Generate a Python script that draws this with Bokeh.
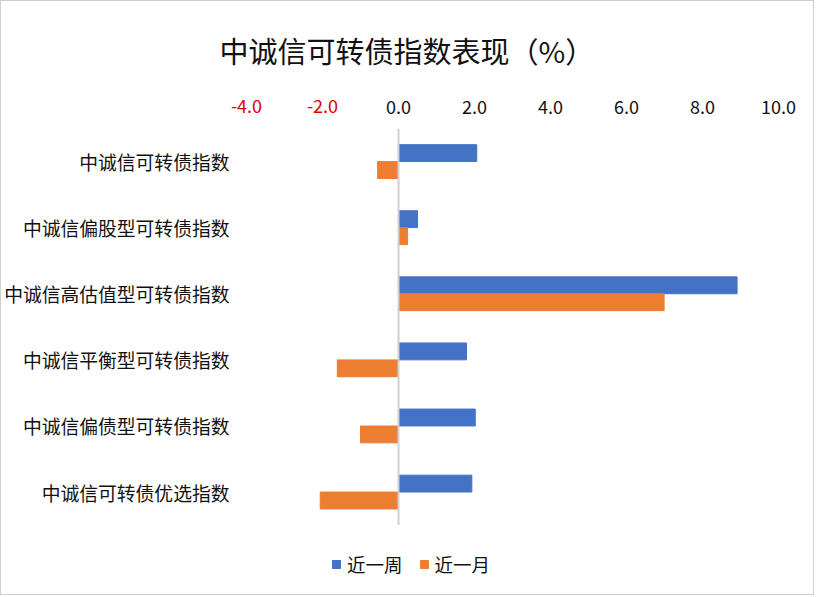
from bokeh.plotting import figure
from bokeh.models import (Range1d, Legend, LegendItem, LinearAxis,
                          ColumnDataSource, FixedTicker, PrintfTickFormatter)
from bokeh.transform import dodge
from bokeh.embed import file_html
from bokeh.resources import INLINE

categories = ["中诚信可转债指数", "中诚信偏股型可转债指数", "中诚信高估值型可转债指数",
              "中诚信平衡型可转债指数", "中诚信偏债型可转债指数", "中诚信可转债优选指数"]
week = [2.06, 0.50, 8.91, 1.79, 2.02, 1.93]
month = [-0.55, 0.24, 6.99, -1.61, -1.00, -2.06]
series_names = ["近一周", "近一月"]
tick_values = [-4, -2, 0, 2, 4, 6, 8, 10]
title_text = "中诚信可转债指数表现（%）"

FONT = "Noto Sans CJK SC"
BLUE = "#4472C4"
ORANGE = "#ED7D31"

n = len(categories)
pos = [n - 1 - i for i in range(n)]          # first category at the top
src = ColumnDataSource(dict(pos=pos, cat=categories, week=week, month=month))

W, H = 814, 595
TOP, BOTTOM, LEFT, RIGHT = 123, 0, 245, 37
CAT_PX = 400                                  # height used by the categories
frame_h = H - TOP - BOTTOM
extra = (frame_h - CAT_PX) / (CAT_PX / n)     # room left under the bars for the legend

p = figure(width=W, height=H,
           y_range=Range1d(-0.5 - extra, n - 0.5),
           x_range=Range1d(tick_values[0], tick_values[-1]), x_axis_location="above",
           output_backend="svg", toolbar_location=None, title=title_text)
p.styles = {"border": "1px solid #cfcfcf"}

p.min_border_left = LEFT
p.min_border_right = RIGHT
p.min_border_top = TOP
p.min_border_bottom = BOTTOM
p.outline_line_color = None
p.background_fill_color = "white"
p.border_fill_color = "white"
p.xgrid.grid_line_color = None
p.ygrid.grid_line_color = None

p.title.text_font = FONT
p.title.text_font_size = "29px"
p.title.text_font_style = "normal"
p.title.text_color = "#111111"
p.title.align = "left"
p.title.offset = -27
p.title.standoff = 50

r1 = p.hbar(y=dodge("pos", 0.128), left=0, right="week",
            height=0.255, color=BLUE, source=src)
r2 = p.hbar(y=dodge("pos", -0.128), left=0, right="month",
            height=0.255, color=ORANGE, source=src)

# vertical axis line at zero, over the category band only
p.segment(x0=[0], x1=[0], y0=[-0.5], y1=[n - 0.5], line_color="#d0d0d0", line_width=2)

pos_ticks = [t for t in tick_values if t >= 0]
neg_ticks = [t for t in tick_values if t < 0]


def style_axis(ax, color, standoff):
    ax.formatter = PrintfTickFormatter(format="%.1f")
    ax.axis_line_color = None
    ax.major_tick_line_color = None
    ax.minor_tick_line_color = None
    ax.major_tick_in = 0
    ax.major_tick_out = 0
    ax.minor_tick_in = 0
    ax.minor_tick_out = 0
    ax.major_label_text_font = FONT
    ax.major_label_text_font_size = "18px"
    ax.major_label_text_color = color
    ax.major_label_standoff = standoff


# inner axis (next to the frame): negative ticks in red
xa = p.xaxis[0]
xa.ticker = FixedTicker(ticks=neg_ticks)
style_axis(xa, "#E00000", 16)

# outer axis: non-negative ticks in black, pulled back onto the same row
xb = LinearAxis(ticker=FixedTicker(ticks=pos_ticks))
style_axis(xb, "#111111", -18)
p.add_layout(xb, "above")

ya = p.yaxis[0]
ya.ticker = FixedTicker(ticks=pos)
ya.major_label_overrides = {k: c for k, c in zip(pos, categories)}
ya.axis_line_color = None
ya.major_tick_line_color = None
ya.minor_tick_line_color = None
ya.major_tick_out = 0
ya.major_tick_in = 0
ya.minor_tick_out = 0
ya.minor_tick_in = 0
ya.major_label_text_font = FONT
ya.major_label_text_font_size = "18.8px"
ya.major_label_text_color = "#111111"
ya.major_label_standoff = 17

legend = Legend(items=[LegendItem(label=series_names[0], renderers=[r1]),
                       LegendItem(label=series_names[1], renderers=[r2])],
                orientation="horizontal", location=(85, 19))
legend.label_text_font = FONT
legend.label_text_font_size = "18.5px"
legend.label_text_color = "#111111"
legend.glyph_width = 10
legend.glyph_height = 10
legend.label_standoff = 6
legend.spacing = 16
legend.padding = 0
legend.margin = 0
legend.label_height = 20
legend.border_line_color = None
legend.background_fill_alpha = 0
p.add_layout(legend, "center")

open("out.html", "w").write(file_html(p, INLINE))
